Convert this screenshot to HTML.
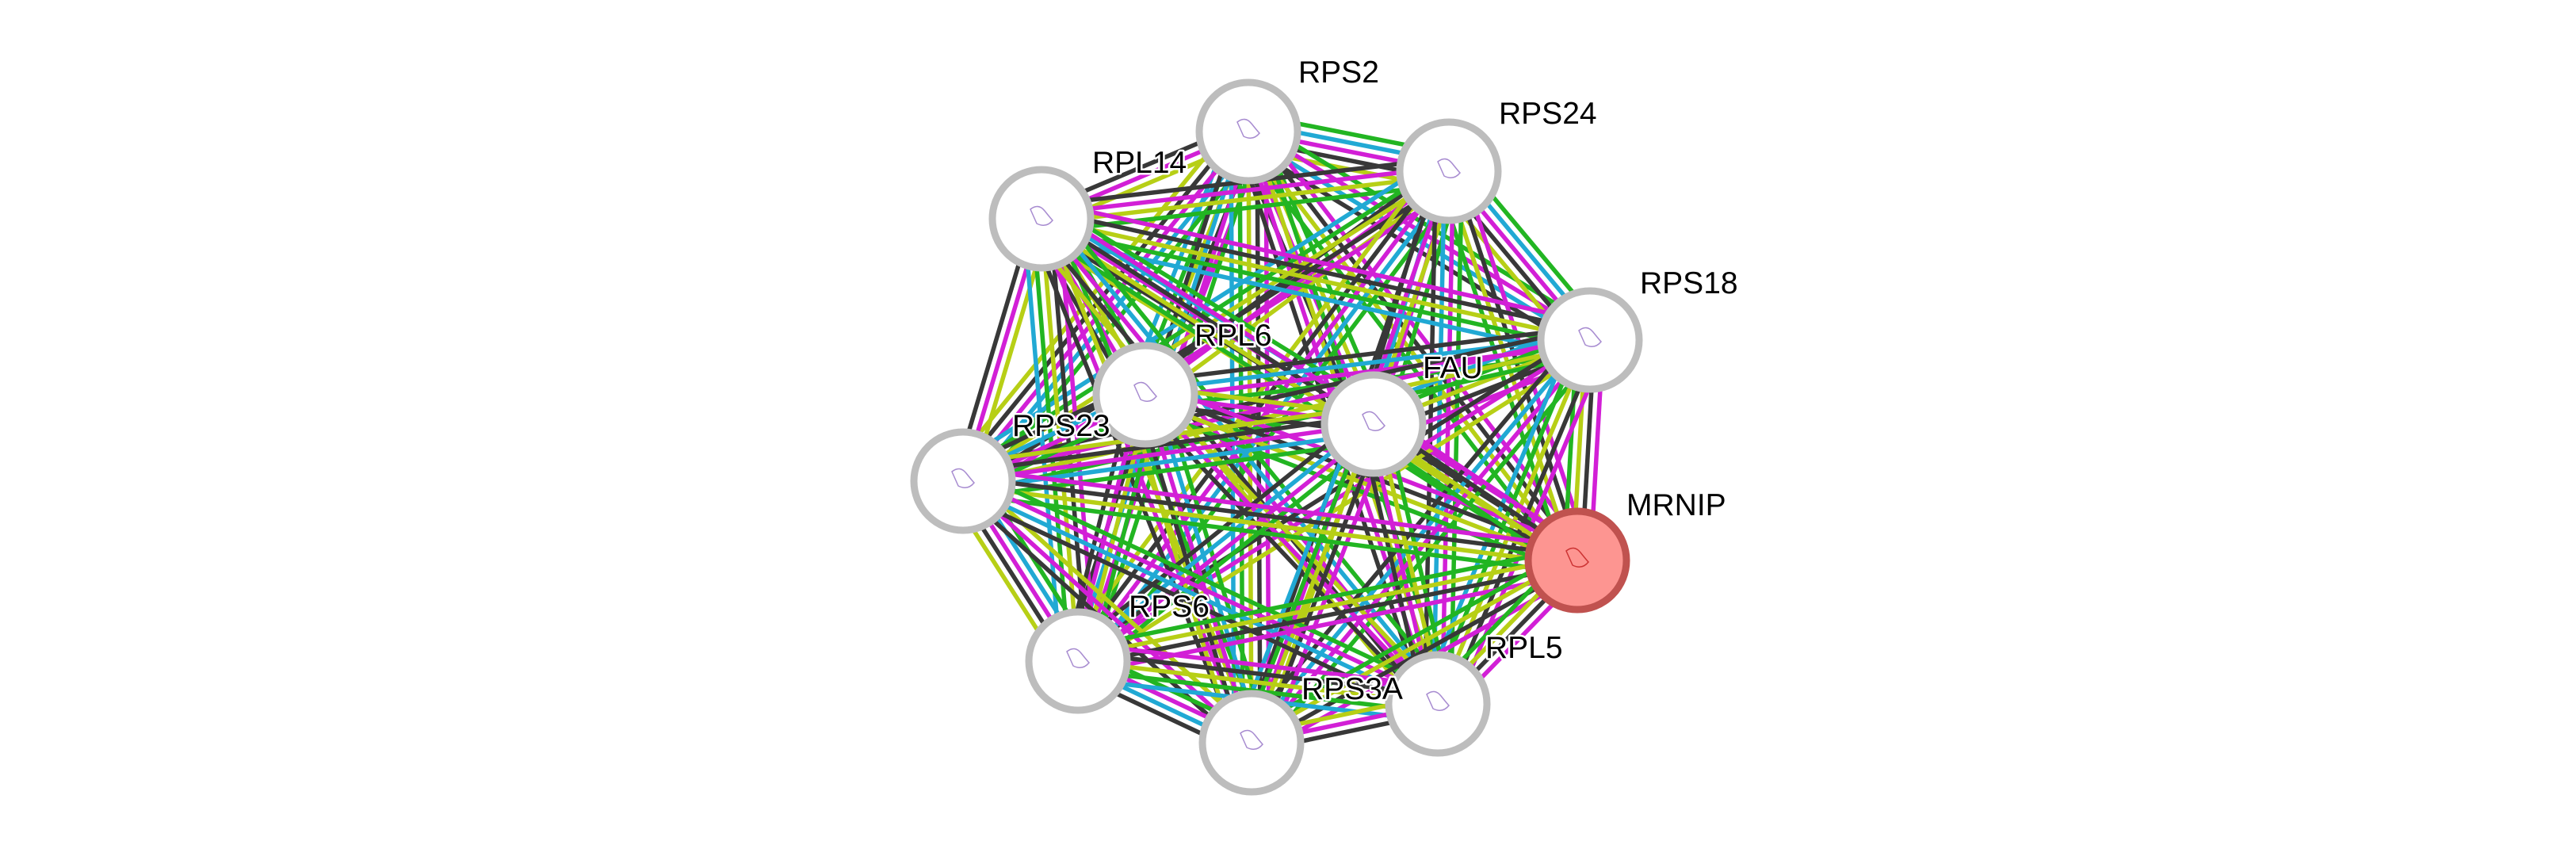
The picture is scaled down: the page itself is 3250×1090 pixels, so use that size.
<!DOCTYPE html>
<html><head><meta charset="utf-8"><style>
html,body{margin:0;padding:0;background:#fff;width:3250px;height:1090px;overflow:hidden}
svg text{font-family:"Liberation Sans",sans-serif;font-size:39px;fill:#000;paint-order:stroke;stroke:#fff;stroke-width:5px;stroke-linejoin:round}
</style></head><body>
<svg id="s" width="3250" height="1090" xmlns="http://www.w3.org/2000/svg">
<g id="edges"></g><g id="nodes"></g>
<g>
<text x="1638" y="104">RPS2</text>
<text x="1891" y="156">RPS24</text>
<text x="1378" y="218">RPL14</text>
<text x="2069" y="370">RPS18</text>
<text x="1507" y="436">RPL6</text>
<text x="1795" y="477">FAU</text>
<text x="1277" y="550">RPS23</text>
<text x="2052" y="650">MRNIP</text>
<text x="1424" y="778">RPS6</text>
<text x="1642" y="882">RPS3A</text>
<text x="1874" y="830">RPL5</text>
</g>
</svg>
<script>
var N={RPS2:[1575,166],RPS24:[1828,216],RPL14:[1314,276],RPS18:[2006,429],RPL6:[1445,498],FAU:[1733,535],RPS23:[1215,607],MRNIP:[1990,707],RPS6:[1360,834],RPS3A:[1579,937],RPL5:[1814,888]};
var C={k:"#383838",m:"#d21fd6",g:"#22b522",y:"#b7cf16",c:"#21a9d4"};
var keys=Object.keys(N),eg=document.getElementById('edges'),h="";
var sets=[["g","y","m","k"],["g","c","m","k","y"],["y","m","k"],["g","m","c","k"],["m","k","y","g","c"]];
for(var i=0;i<keys.length;i++)for(var j=i+1;j<keys.length;j++){
 var a=N[keys[i]],b=N[keys[j]];var set;
 if(keys[i]=="MRNIP"||keys[j]=="MRNIP")set=["m","k","y","g"];else set=sets[(i*3+j)%5];
 var dx=b[0]-a[0],dy=b[1]-a[1],L=Math.hypot(dx,dy),px=-dy/L,py=dx/L,sp=11;
 for(var k=0;k<set.length;k++){var o=(k-(set.length-1)/2)*sp;
  h+='<line x1="'+(a[0]+px*o)+'" y1="'+(a[1]+py*o)+'" x2="'+(b[0]+px*o)+'" y2="'+(b[1]+py*o)+'" stroke="'+C[set[k]]+'" stroke-width="5.5"/>';}
}
eg.innerHTML=h;
var nh="";
for(var n in N){var p=N[n],red=n=="MRNIP";
 nh+='<circle cx="'+p[0]+'" cy="'+p[1]+'" r="62" fill="'+(red?"#fd9591":"#fff")+'" stroke="'+(red?"#c0524f":"#bdbdbd")+'" stroke-width="9"/>';
 nh+='<path d="M'+(p[0]-14)+' '+(p[1]-12)+' q10 -8 18 2 t10 12 q-8 10 -20 4 z" fill="none" stroke="'+(red?"#c33":"#a78bd0")+'" stroke-width="1.5"/>';}
document.getElementById('nodes').innerHTML=nh;
</script>
</body></html>
